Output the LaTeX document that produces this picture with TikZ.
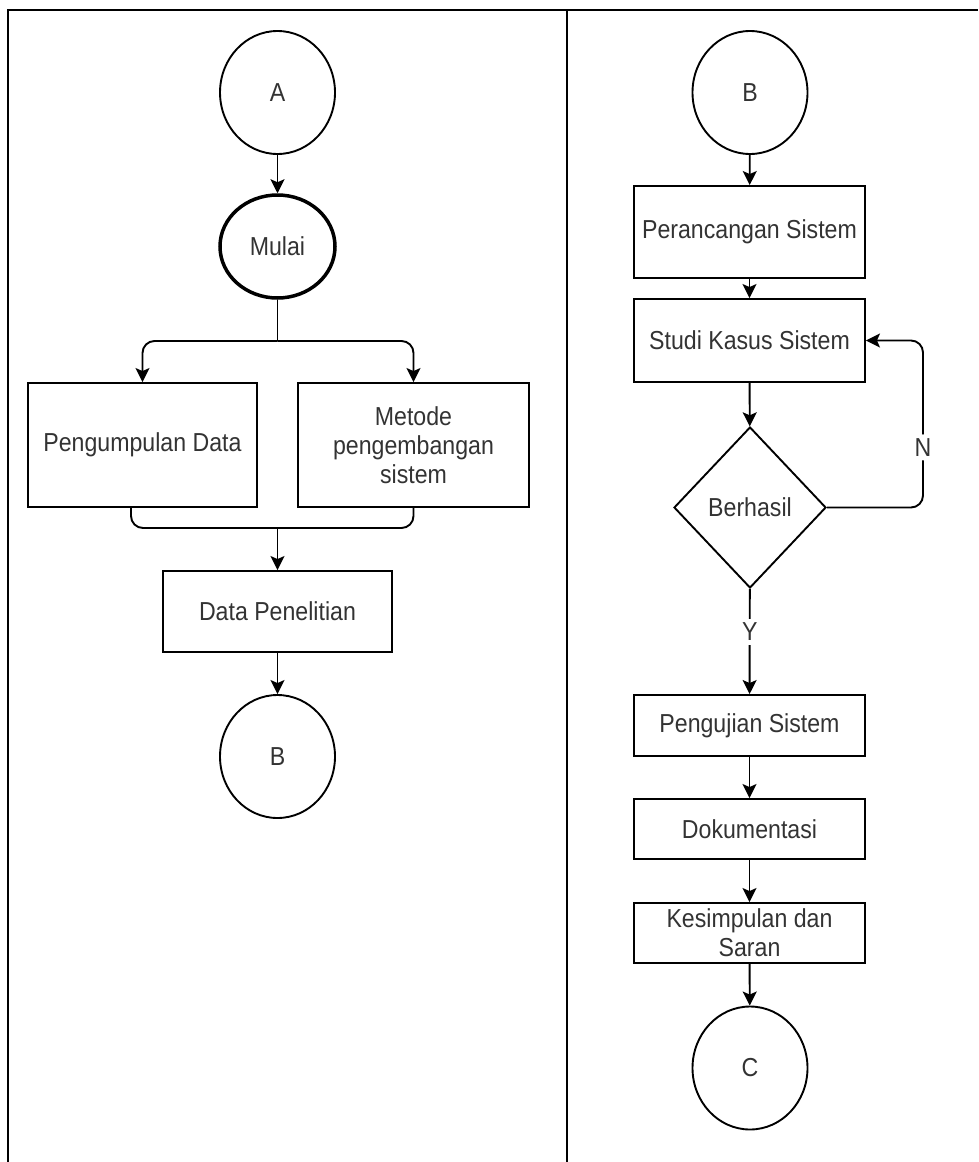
\documentclass[tikz,border=0pt]{standalone}
\usepackage{fontspec}
\setmainfont[FakeStretch=0.89]{Liberation Sans}
\usetikzlibrary{shapes.geometric,arrows.meta}
\begin{document}
\begin{tikzpicture}[x=1pt,y=-1pt,
  every node/.style={font=\fontsize{26}{29}\selectfont, text=black!80, inner sep=0pt},
  proc/.style={draw=black, line width=1.9pt, rectangle, align=center},
  conn/.style={draw=black, line width=1.9pt, ellipse, minimum width=115pt, minimum height=123pt},
  startnode/.style={draw=black, line width=3.5pt, ellipse, minimum width=115pt, minimum height=103pt},
  decision/.style={draw=black, line width=1.9pt, diamond, minimum width=152pt, minimum height=161pt},
  flow/.style={line width=1.9pt, -{Stealth[length=14pt,width=14pt,inset=3pt]}},
  plain/.style={line width=1.9pt},
  lbl/.style={fill=white, inner sep=4pt}
]
\useasboundingbox (0,0) rectangle (978,1162);
% frame
\draw[line width=2.5pt] (8,1162) -- (8,10) -- (978,10);
\draw[line width=1.9pt] (567,10) -- (567,1162);

% left column
\node[conn] (A) at (277.5,92.5) {A};
\node[startnode] (mulai) at (277.5,246.5) {Mulai};
\node[proc, minimum width=229pt, minimum height=124pt] (pd) at (142.5,445) {Pengumpulan Data};
\node[proc, minimum width=231pt, minimum height=124pt] (mp) at (413.5,445) {Metode\\pengembangan\\sistem};
\node[proc, minimum width=229pt, minimum height=81pt] (dp) at (277.5,611.5) {Data Penelitian};
\node[conn] (B1) at (277.5,756.5) {B};

\coordinate (split) at (277.5,341);
\coordinate (merge) at (277.5,528);

\draw[flow] (A) -- (mulai);
\draw[plain] (mulai.south) -- (split);
\draw[flow, rounded corners=12pt] (split) -| (pd.north);
\draw[flow, rounded corners=12pt] (split) -| (mp.north);
\draw[plain, rounded corners=12pt] ([xshift=-11.5pt]pd.south) |- (merge) -| (mp.south);
\draw[flow] (merge) -- (dp);
\draw[flow] (dp) -- (B1);

% right column
\node[conn] (B2) at (750,92.5) {B};
\node[proc, minimum width=231pt, minimum height=92pt] (ps) at (749.5,232) {Perancangan Sistem};
\node[proc, minimum width=231pt, minimum height=83pt] (sk) at (749.5,340.5) {Studi Kasus Sistem};
\node[decision] (bh) at (750,507.5) {Berhasil};
\node[proc, minimum width=231pt, minimum height=61pt] (pj) at (749.5,725.5) {Pengujian Sistem};
\node[proc, minimum width=231pt, minimum height=60pt] (dk) at (749.5,829) {Dokumentasi};
\node[proc, minimum width=231pt, minimum height=60pt] (ks) at (749.5,933) {Kesimpulan dan\\Saran};
\node[conn] (C) at (750,1068) {C};

\coordinate (nx) at (923,0);

\draw[flow] (B2) -- (ps);
\draw[flow] (ps) -- (sk);
\draw[flow] (sk) -- (bh);
\draw[flow] (bh) -- node[lbl, pos=0.41] {Y} (pj);
\draw[flow, rounded corners=12pt] (bh.east) -- (bh.east -| nx) -- node[lbl, pos=0.36] {N} (sk.east -| nx) -- (sk.east);
\draw[flow] (pj) -- (dk);
\draw[flow] (dk) -- (ks);
\draw[flow] (ks) -- (C);
\end{tikzpicture}
\end{document}
